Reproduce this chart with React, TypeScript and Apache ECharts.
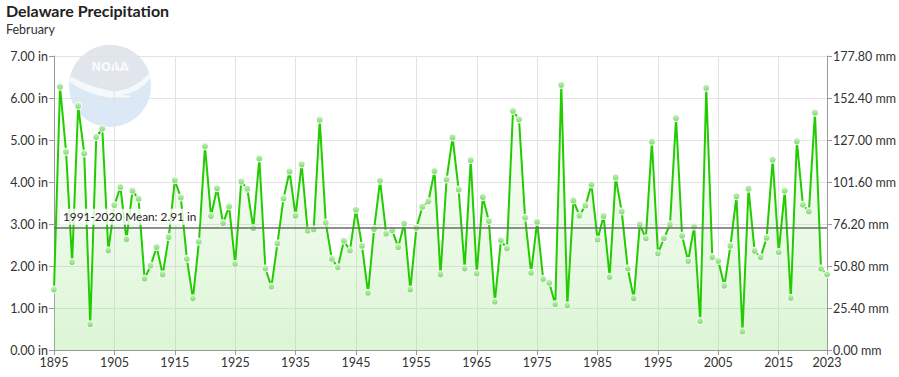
import React, { useEffect, useRef } from "react";
import * as echarts from "echarts";

const years: string[] = [];
for (let y = 1895; y <= 2023; y++) years.push(String(y));

const precip: number[] = [
  1.44, 6.27, 4.72, 2.09, 5.81, 4.68, 0.61, 5.07, 5.27, 2.37,
  3.45, 3.88, 2.64, 3.79, 3.6, 1.7, 2.01, 2.45, 1.8, 2.69,
  4.04, 3.63, 2.17, 1.23, 2.58, 4.85, 3.19, 3.85, 3.02, 3.42,
  2.05, 4.01, 3.84, 2.9, 4.56, 1.94, 1.51, 2.54, 3.61, 4.25,
  3.2, 4.42, 2.84, 2.87, 5.48, 3.03, 2.17, 1.97, 2.6, 2.37,
  3.34, 2.48, 1.36, 2.88, 4.03, 2.77, 2.85, 2.45, 3.01, 1.44,
  2.91, 3.41, 3.54, 4.26, 1.8, 4.06, 5.06, 3.82, 1.94, 4.52,
  1.82, 3.64, 3.07, 1.15, 2.61, 2.42, 5.69, 5.49, 3.15, 1.84,
  3.05, 1.69, 1.6, 1.09, 6.31, 1.06, 3.56, 3.2, 3.44, 3.94,
  2.63, 3.19, 1.74, 4.11, 3.3, 1.94, 1.23, 2.99, 2.66, 4.96,
  2.3, 2.66, 2.99, 5.52, 2.72, 2.12, 2.94, 0.69, 6.24, 2.21,
  2.12, 1.53, 2.48, 3.66, 0.44, 3.84, 2.36, 2.21, 2.67, 4.53,
  2.33, 3.79, 1.24, 4.97, 3.46, 3.3, 5.65, 1.94, 1.8,
];

const meanValue = 2.91;
const meanLabel = "1991-2020 Mean: 2.91 in";
const titleText = "Delaware Precipitation";
const subtitleText = "February";

const FONT = "Lato, 'Noto Sans', sans-serif";

let registered = false;
function registerLogo() {
  if (registered) return;
  registered = true;
  echarts.graphic.registerShape(
    "noaaDome",
    echarts.graphic.extendPath(
      "M 2 38 A 50 50 0 0 1 98 34 Q 82 52 60 56 Q 52 57.5 46 55 Q 20 49 2 38 Z",
      {}
    ) as any
  );
  echarts.graphic.registerShape(
    "noaaBird",
    echarts.graphic.extendPath(
      "M 2 38 Q 20 49 46 55 Q 52 57.5 60 56 Q 82 52 98 34 L 99 41 Q 86 58 64 61 L 76 62 L 73 64 L 48 64 Q 22 60 1 45 Z",
      {}
    ) as any
  );
}

export default function App() {
  const ref = useRef<HTMLDivElement>(null);

  useEffect(() => {
    if (!ref.current) return;
    registerLogo();
    const chart = echarts.init(ref.current, undefined, { renderer: "svg" });

    const labelIdx = (i: number) => i % 10 === 0 || i === years.length - 1;

    const option: any = {
      animation: false,
      backgroundColor: "#ffffff",
      title: {
        text: titleText,
        subtext: subtitleText,
        left: 6,
        top: 2,
        padding: 0,
        itemGap: 5,
        textStyle: { fontFamily: FONT, fontSize: 16, fontWeight: "bold", color: "#222" },
        subtextStyle: { fontFamily: FONT, fontSize: 12.5, color: "#333" },
      },
      graphic: [
        {
          type: "circle",
          z: 0,
          silent: true,
          shape: { cx: 110, cy: 86, r: 41 },
          style: { fill: "#dbe8f5" },
        },
        {
          type: "noaaDome",
          z: 0,
          silent: true,
          x: 69,
          y: 45,
          scaleX: 0.82,
          scaleY: 0.82,
          style: { fill: "#e1e5ec" },
        },
        {
          type: "noaaBird",
          z: 0,
          silent: true,
          x: 69,
          y: 45,
          scaleX: 0.82,
          scaleY: 0.82,
          style: { fill: "#f6f9fc" },
        },
        {
          type: "text",
          z: 0,
          silent: true,
          x: 110,
          y: 66,
          style: {
            text: "NOAA",
            fill: "#f8fafc",
            font: "bold 13px 'DejaVu Sans Condensed', 'DejaVu Sans', sans-serif",
            textAlign: "center",
            textVerticalAlign: "middle",
          },
        },
      ],
      grid: { left: 54, right: 71, top: 56, bottom: 27, containLabel: false },
      xAxis: {
        type: "category",
        data: years,
        boundaryGap: false,
        axisLine: { show: true, lineStyle: { color: "#999", width: 1 } },
        axisTick: {
          show: true,
          interval: (i: number) => labelIdx(i),
          length: 5,
          lineStyle: { color: "#999" },
        },
        axisLabel: {
          interval: (i: number) => labelIdx(i),
          fontFamily: FONT,
          fontSize: 12.5,
          color: "#333",
          margin: 6,
        },
        splitLine: {
          show: true,
          interval: (i: number) => i % 10 === 0 && i > 0 && i < years.length - 1,
          lineStyle: { color: "#e3e3e3", width: 1 },
        },
      },
      yAxis: [
        {
          type: "value",
          min: 0,
          max: 7,
          interval: 1,
          position: "left",
          axisLine: { show: true, lineStyle: { color: "#999" } },
          axisTick: { show: true, length: 5, lineStyle: { color: "#999" } },
          axisLabel: {
            formatter: (v: number) => v.toFixed(2) + " in",
            fontFamily: FONT,
            fontSize: 12.5,
            color: "#333",
            margin: 6,
          },
          splitLine: { show: true, lineStyle: { color: "#e3e3e3", width: 1 } },
        },
        {
          type: "value",
          min: 0,
          max: 177.8,
          interval: 25.4,
          position: "right",
          axisLine: { show: true, lineStyle: { color: "#999" } },
          axisTick: { show: true, length: 5, lineStyle: { color: "#999" } },
          axisLabel: {
            formatter: (v: number) => v.toFixed(2) + " mm",
            fontFamily: FONT,
            fontSize: 12.5,
            color: "#333",
            margin: 6,
          },
          splitLine: { show: false },
        },
      ],
      series: [
        {
          type: "line",
          data: precip,
          yAxisIndex: 0,
          z: 3,
          symbol: "circle",
          symbolSize: 7,
          showAllSymbol: true,
          lineStyle: { color: "#22cc00", width: 2 },
          itemStyle: {
            color: new echarts.graphic.LinearGradient(0, 0, 0, 1, [
              { offset: 0, color: "#c8f2bd" },
              { offset: 1, color: "#7bd96a" },
            ]),
            borderColor: "#ffffff",
            borderWidth: 1,
          },
          areaStyle: {
            origin: "start",
            color: new echarts.graphic.LinearGradient(0, 0, 0, 1, [
              { offset: 0, color: "rgba(170, 232, 150, 0.06)" },
              { offset: 1, color: "rgba(150, 226, 130, 0.48)" },
            ]),
          },
          markLine: {
            silent: true,
            symbol: "none",
            z: 4,
            lineStyle: { color: "#6b6b6b", width: 1.5, type: "solid" },
            label: {
              show: true,
              position: "insideStartTop",
              formatter: meanLabel,
              fontFamily: FONT,
              fontSize: 11.8,
              color: "#222",
              backgroundColor: "rgba(255,255,255,0.8)",
              padding: [2, 3],
              distance: [6, 3],
            },
            data: [{ yAxis: meanValue }],
          },
        },
      ],
    };

    chart.setOption(option);
    return () => chart.dispose();
  }, []);

  return (
    <div
      ref={ref}
      style={{ position: "fixed", left: 0, top: 0, width: 899, height: 377 }}
    />
  );
}
